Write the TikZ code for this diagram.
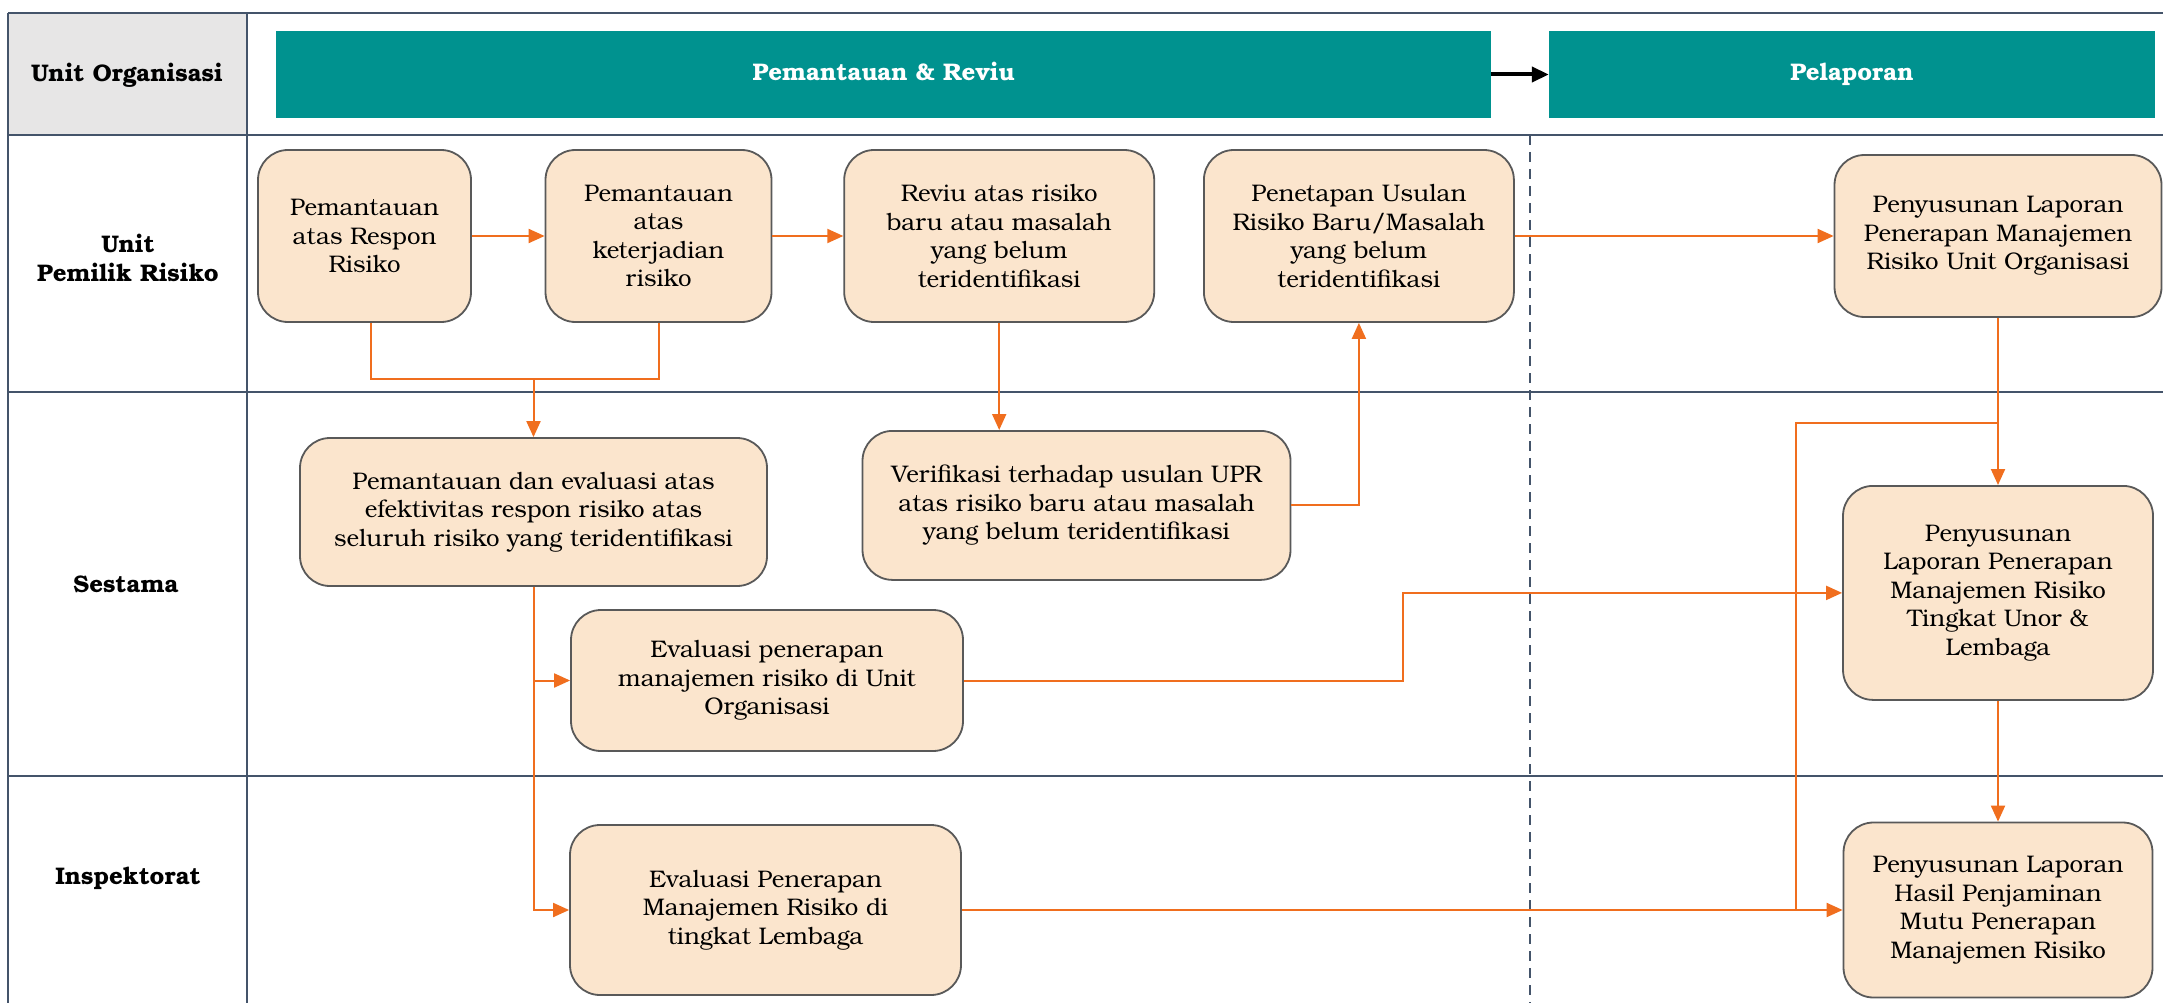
\documentclass[tikz,border=0pt]{standalone}
\usepackage{fontspec}
\setmainfont{texgyrebonum}[Extension=.otf,UprightFont=*-regular,BoldFont=*-bold,ItalicFont=*-italic,BoldItalicFont=*-bolditalic]
\usetikzlibrary{arrows.meta,calc}

\definecolor{gridline}{RGB}{68,84,106}
\definecolor{cellgray}{RGB}{231,230,230}
\definecolor{bandteal}{RGB}{0,146,143}
\definecolor{boxfill}{RGB}{251,229,205}
\definecolor{boxline}{RGB}{89,89,89}
\definecolor{flowcol}{RGB}{240,110,30}

\tikzset{
  lane/.style={draw=gridline, line width=2.5pt},
  band/.style={fill=bandteal, text=white, inner sep=0pt, text height=17pt, text depth=5pt,
    font=\bfseries\fontsize{24}{28}\selectfont},
  lanelabel/.style={align=center, font=\bfseries\fontsize{24}{29}\selectfont},
  stepbox/.style={draw=boxline, line width=1.8pt, fill=boxfill, rounded corners=30pt,
    align=center, inner sep=0pt, font=\fontsize{24}{28.5}\selectfont},
  flowline/.style={draw=flowcol, line width=2pt},
  flow/.style={flowline, -{Triangle[length=16pt,width=14pt]}},
}

\begin{document}
\begin{tikzpicture}[x=1pt,y=-1pt]
  % canvas
  \fill[white] (0,0) rectangle (2163,1003);
  \useasboundingbox (0,0) rectangle (2163,1003);

  % lane grid
  \fill[cellgray] (8,13) rectangle (247,135);
  \draw[lane] (8,13) -- (2163,13);
  \draw[lane] (8,135) -- (2163,135);
  \draw[lane] (8,392) -- (2163,392);
  \draw[lane] (8,776) -- (2163,776);
  \draw[lane] (8,13) -- (8,1003);
  \draw[lane] (247,13) -- (247,1003);
  \draw[gridline, line width=1.5pt, dash pattern=on 10pt off 7pt] (1530,135) -- (1530,1003);

  % lane labels
  \node[lanelabel] (lhead) at (127,75) {Unit Organisasi};
  \node[lanelabel] (lupr) at (128,258) {Unit\\Pemilik Risiko};
  \node[lanelabel] (lsest) at (126,584) {Sestama};
  \node[lanelabel] (linsp) at (128,878) {Inspektorat};

  % phase bands
  \node[band, minimum width=1215pt, minimum height=87pt] (ph1) at (883.5,74.5) {Pemantauan \& Reviu};
  \node[band, minimum width=606pt, minimum height=87pt] (ph2) at (1852,74.5) {Pelaporan};
  \draw[black, line width=4pt, -{Triangle[length=17pt,width=15pt]}] (ph1.east) -- (ph2.west);

  % process steps
  \node[stepbox, minimum width=213pt, minimum height=172pt] (b1) at (364.5,236) {Pemantauan\\atas Respon\\Risiko};
  \node[stepbox, minimum width=226pt, minimum height=172pt] (b2) at (658.5,236) {Pemantauan\\atas\\keterjadian\\risiko};
  \node[stepbox, minimum width=310pt, minimum height=172pt] (b3) at (999.2,236) {Reviu atas risiko\\baru atau masalah\\yang belum\\teridentifikasi};
  \node[stepbox, minimum width=310pt, minimum height=172pt] (b4) at (1358.9,236) {Penetapan Usulan\\Risiko Baru/Masalah\\yang belum\\teridentifikasi};
  \node[stepbox, minimum width=327pt, minimum height=162pt] (b5) at (1998,236) {Penyusunan Laporan\\Penerapan Manajemen\\Risiko Unit Organisasi};
  \node[stepbox, minimum width=467pt, minimum height=148pt] (b6) at (533.5,512) {Pemantauan dan evaluasi atas\\efektivitas respon risiko atas\\seluruh risiko yang teridentifikasi};
  \node[stepbox, minimum width=428pt, minimum height=149pt] (b7) at (1076.5,505.4) {Verifikasi terhadap usulan UPR\\atas risiko baru atau masalah\\yang belum teridentifikasi};
  \node[stepbox, minimum width=392pt, minimum height=141pt] (b8) at (767,680.5) {Evaluasi penerapan\\manajemen risiko di Unit\\Organisasi};
  \node[stepbox, minimum width=310pt, minimum height=214pt] (b9) at (1998,592.9) {Penyusunan\\Laporan Penerapan\\Manajemen Risiko\\Tingkat Unor \&\\Lembaga};
  \node[stepbox, minimum width=309pt, minimum height=175pt] (b10) at (1998,910) {Penyusunan Laporan\\Hasil Penjaminan\\Mutu Penerapan\\Manajemen Risiko};
  \node[stepbox, minimum width=391pt, minimum height=170pt] (b11) at (765.5,910) {Evaluasi Penerapan\\Manajemen Risiko di\\tingkat Lembaga};

  % junction points
  \coordinate (j1) at (533.5,379);
  \coordinate (k1) at (1402.7,0);
  \coordinate (k2) at (1796,423.3);

  % flows in the risk-owner lane
  \draw[flow] (b1.east) -- (b2.west);
  \draw[flow] (b2.east) -- (b3.west);
  \draw[flow] (b4.east) -- (b5.west);
  \draw[flowline] ([xshift=6pt]b1.south) |- (j1);
  \draw[flowline] (b2.south) |- (j1);
  \draw[flow] (j1) -- (b6.north);
  \draw[flow] (b3.south) -- (b3.south |- b7.north);
  \draw[flow] (b7.east) -| (b4.south);

  % flows to the evaluation steps
  \draw[flow] (b6.south) |- (b11.west);
  \draw[flow] (b6.south |- b8.west) -- (b8.west);
  \draw[flow] (b8.east) -| (k1 |- b9.west) -- (b9.west);
  \draw[flow] (b11.east) -- (b10.west);

  % reporting chain
  \draw[flow] (b5.south) -- (b9.north);
  \draw[flow] (b9.south) -- (b10.north);
  \draw[flowline] (b5.south |- k2) -- (k2) -- (k2 |- b10.west);
\end{tikzpicture}
\end{document}
